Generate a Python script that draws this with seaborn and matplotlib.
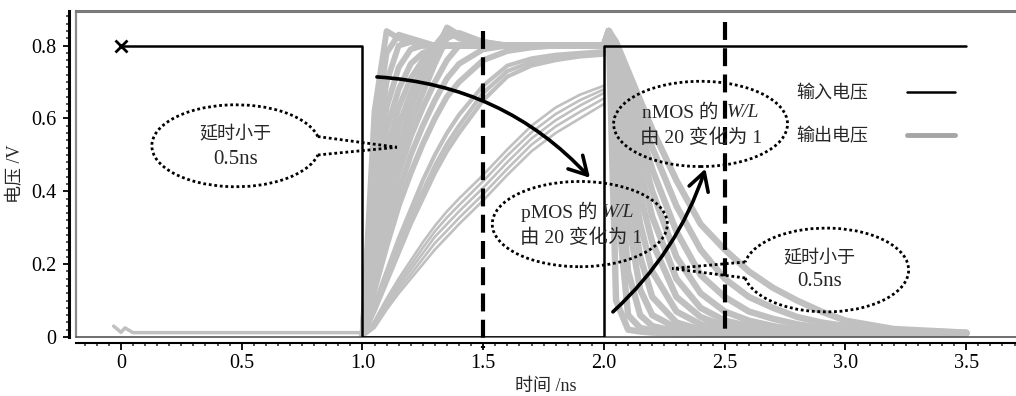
import numpy as np
import pandas as pd
import matplotlib
matplotlib.use('Agg')
import matplotlib.pyplot as plt
import seaborn as sns
from matplotlib.patches import Arc, Ellipse, FancyArrowPatch
from matplotlib.lines import Line2D
from matplotlib.ticker import MultipleLocator

# ---- data ----
# input voltage (black step)
t_in = [0.0, 1.0, 1.0, 2.0, 2.0, 3.5]
v_in = [0.8, 0.8, 0.0, 0.0, 0.8, 0.8]

# output before the first input edge
t_pre = [-0.03, 0.0, 0.017, 0.05, 1.0]
v_pre = [0.03, 0.013, 0.025, 0.012, 0.012]

# output rising edge (pMOS W/L from 20 down to 1)
t_rise = [1.0, 1.05, 1.1, 1.15, 1.2, 1.25, 1.3, 1.35, 1.4, 1.5, 1.6, 1.7, 1.8, 1.9, 2.0]
rise_fast = [
    [0.00, 0.62, 0.84, 0.82, 0.81, 0.80, 0.80, 0.80, 0.80, 0.80, 0.80, 0.80, 0.80, 0.80, 0.80],
    [0.00, 0.55, 0.78, 0.83, 0.82, 0.81, 0.80, 0.80, 0.80, 0.80, 0.80, 0.80, 0.80, 0.80, 0.80],
    [0.00, 0.48, 0.70, 0.80, 0.81, 0.80, 0.80, 0.80, 0.80, 0.80, 0.80, 0.80, 0.80, 0.80, 0.80],
    [0.00, 0.42, 0.63, 0.74, 0.79, 0.80, 0.80, 0.80, 0.80, 0.80, 0.80, 0.80, 0.80, 0.80, 0.80],
    [0.00, 0.37, 0.57, 0.68, 0.75, 0.78, 0.79, 0.80, 0.80, 0.80, 0.80, 0.80, 0.80, 0.80, 0.80],
    [0.00, 0.32, 0.51, 0.63, 0.71, 0.76, 0.79, 0.80, 0.80, 0.80, 0.80, 0.80, 0.80, 0.80, 0.80],
    [0.00, 0.28, 0.46, 0.58, 0.67, 0.74, 0.80, 0.84, 0.82, 0.80, 0.80, 0.80, 0.80, 0.80, 0.80],
    [0.00, 0.25, 0.41, 0.53, 0.63, 0.71, 0.78, 0.85, 0.83, 0.80, 0.80, 0.80, 0.80, 0.80, 0.80],
    [0.00, 0.22, 0.37, 0.49, 0.59, 0.67, 0.75, 0.82, 0.835, 0.81, 0.80, 0.80, 0.80, 0.80, 0.80],
    [0.00, 0.19, 0.33, 0.45, 0.55, 0.63, 0.70, 0.76, 0.80, 0.81, 0.80, 0.80, 0.80, 0.80, 0.80],
    [0.00, 0.16, 0.29, 0.40, 0.50, 0.58, 0.65, 0.71, 0.75, 0.79, 0.80, 0.80, 0.80, 0.80, 0.80],
    [0.00, 0.13, 0.25, 0.36, 0.45, 0.53, 0.60, 0.66, 0.70, 0.76, 0.785, 0.795, 0.80, 0.80, 0.80],
]
rise_mid = [
    [0.00, 0.09, 0.18, 0.27, 0.35, 0.43, 0.50, 0.56, 0.61, 0.69, 0.745, 0.765, 0.775, 0.78, 0.785],
    [0.00, 0.08, 0.16, 0.25, 0.33, 0.40, 0.47, 0.53, 0.58, 0.67, 0.73, 0.755, 0.765, 0.775, 0.78],
    [0.00, 0.07, 0.15, 0.23, 0.31, 0.38, 0.45, 0.51, 0.56, 0.65, 0.715, 0.745, 0.76, 0.77, 0.775],
]
rise_slow = [
    [0.00, 0.045, 0.105, 0.16, 0.21, 0.26, 0.305, 0.345, 0.38, 0.445, 0.515, 0.58, 0.63, 0.665, 0.69],
    [0.00, 0.04, 0.097, 0.15, 0.197, 0.245, 0.29, 0.328, 0.362, 0.428, 0.498, 0.562, 0.612, 0.65, 0.68],
    [0.00, 0.035, 0.09, 0.14, 0.185, 0.23, 0.275, 0.31, 0.345, 0.41, 0.48, 0.545, 0.595, 0.635, 0.67],
    [0.00, 0.03, 0.082, 0.13, 0.172, 0.215, 0.258, 0.292, 0.327, 0.392, 0.462, 0.528, 0.578, 0.618, 0.655],
    [0.00, 0.025, 0.075, 0.12, 0.16, 0.20, 0.24, 0.275, 0.31, 0.375, 0.445, 0.51, 0.56, 0.60, 0.64],
]

# output falling edge (nMOS W/L from 20 down to 1)
t_fall = [2.0, 2.02, 2.05, 2.1, 2.15, 2.2, 2.3, 2.4, 2.5, 2.6, 2.7, 2.8, 2.9, 3.0, 3.2, 3.5]
fall = [
    [0.80, 0.84, 0.10, 0.02, 0.015, 0.012, 0.01, 0.01, 0.01, 0.01, 0.01, 0.01, 0.01, 0.01, 0.01, 0.01],
    [0.80, 0.84, 0.40, 0.06, 0.025, 0.018, 0.012, 0.01, 0.01, 0.01, 0.01, 0.01, 0.01, 0.01, 0.01, 0.01],
    [0.80, 0.84, 0.56, 0.18, 0.06, 0.03, 0.015, 0.012, 0.01, 0.01, 0.01, 0.01, 0.01, 0.01, 0.01, 0.01],
    [0.80, 0.84, 0.64, 0.32, 0.13, 0.06, 0.025, 0.015, 0.012, 0.01, 0.01, 0.01, 0.01, 0.01, 0.01, 0.01],
    [0.80, 0.84, 0.69, 0.42, 0.22, 0.11, 0.04, 0.02, 0.015, 0.012, 0.01, 0.01, 0.01, 0.01, 0.01, 0.01],
    [0.80, 0.84, 0.72, 0.50, 0.31, 0.18, 0.07, 0.035, 0.02, 0.015, 0.012, 0.01, 0.01, 0.01, 0.01, 0.01],
    [0.80, 0.84, 0.75, 0.56, 0.39, 0.26, 0.11, 0.055, 0.03, 0.02, 0.015, 0.012, 0.01, 0.01, 0.01, 0.01],
    [0.80, 0.84, 0.77, 0.61, 0.46, 0.33, 0.16, 0.08, 0.045, 0.03, 0.02, 0.015, 0.012, 0.01, 0.01, 0.01],
    [0.80, 0.84, 0.78, 0.65, 0.52, 0.40, 0.22, 0.12, 0.07, 0.045, 0.03, 0.02, 0.015, 0.012, 0.01, 0.01],
    [0.80, 0.84, 0.79, 0.68, 0.57, 0.46, 0.29, 0.17, 0.11, 0.07, 0.05, 0.035, 0.025, 0.018, 0.012, 0.01],
    [0.80, 0.84, 0.80, 0.71, 0.61, 0.52, 0.36, 0.24, 0.16, 0.11, 0.08, 0.055, 0.04, 0.03, 0.018, 0.012],
    [0.80, 0.84, 0.81, 0.73, 0.65, 0.57, 0.43, 0.31, 0.24, 0.18, 0.135, 0.10, 0.07, 0.045, 0.022, 0.012],
]

x_ticks = [0, 0.5, 1.0, 1.5, 2.0, 2.5, 3.0, 3.5]
x_tick_labels = ['0', '0.5', '1.0', '1.5', '2.0', '2.5', '3.0', '3.5']
y_ticks = [0, 0.2, 0.4, 0.6, 0.8]
y_tick_labels = ['0', '0.2', '0.4', '0.6', '0.8']
marker_times = [1.5, 2.5]
legend_labels = ['输入电压', '输出电压']

GRAY = '#c0c0c0'
DOT = (0, (1, 1))


def to_long(t, curves, tag):
    rows = []
    for i, vals in enumerate(curves):
        for tt, vv in zip(t, vals):
            rows.append((f'{tag}{i}', tt, vv))
    return pd.DataFrame(rows, columns=['curve', 't', 'v'])


sns.set_style('ticks')
plt.rcParams['font.family'] = ['Liberation Serif', 'Noto Sans CJK SC']
plt.rcParams['axes.unicode_minus'] = False

fig = plt.figure(figsize=(10.16, 3.96), dpi=100)
ax = fig.add_axes([76 / 1016, 59 / 396, 940 / 1016, 326 / 396])
x0, x1 = -0.186, 3.706
ax.set_xlim(x0, x1)
ax.set_ylim(0, 0.895)

# gray output curves
common = dict(x='t', y='v', units='curve', estimator=None, sort=False,
              color=GRAY, legend=False, ax=ax)
sns.lineplot(data=to_long(t_pre, [v_pre], 'p'), lw=2.5, **common)
sns.lineplot(data=to_long(t_rise, rise_fast, 'f'), lw=4.2, **common)
sns.lineplot(data=to_long(t_rise, rise_mid, 'm'), lw=3.0, **common)
sns.lineplot(data=to_long(t_rise, rise_slow, 's'), lw=1.9, **common)
sns.lineplot(data=to_long(t_fall, fall, 'd'), lw=4.6, **common)

# frame of the plotting area
ax.plot([x0, x0], [0, 0.895], color='#8a8a8a', lw=1.6, clip_on=False)
ax.plot([x0, x1], [0, 0], color='#555555', lw=1.2, clip_on=False)

# input voltage
sns.lineplot(x=t_in, y=v_in, sort=False, estimator=None, color='black', lw=1.8, ax=ax, zorder=4)
ax.plot([0], [0.8], marker='x', ms=8, mew=2, color='black', zorder=4)

# dashed markers at 1.5 ns and 2.5 ns
ax.plot([marker_times[0]] * 2, [0.84, -0.03], color='black', lw=3, dashes=(4.3, 2),
        clip_on=False, zorder=4)
ax.plot([marker_times[1]] * 2, [0.865, 0.01], color='black', lw=3, dashes=(4.3, 2),
        clip_on=False, zorder=4)


def arc_theta(phi, w, h):
    p = np.deg2rad(phi)
    return np.rad2deg(np.arctan2(np.sin(p), (w / h) * np.cos(p)))


def bubble(cx, cy, w, h, gap=None, tip=None):
    if gap is None:
        ax.add_patch(Ellipse((cx, cy), w, h, fill=False, ec='black', lw=2, ls=DOT, zorder=5))
        return
    pa, pb = gap
    ax.add_patch(Arc((cx, cy), w, h, theta1=arc_theta(pa, w, h), theta2=arc_theta(pb, w, h),
                     ec='black', lw=2, ls=DOT, zorder=5))
    for phi in gap:
        p = np.deg2rad(phi)
        px, py = cx + w / 2 * np.cos(p), cy + h / 2 * np.sin(p)
        ax.plot([px, tip[0]], [py, tip[1]], color='black', lw=2, ls=DOT, zorder=5)


bubble(0.476, 0.525, 0.696, 0.225, gap=(13, 347), tip=(1.143, 0.521))
bubble(1.90, 0.31, 0.725, 0.234)
bubble(2.40, 0.585, 0.72, 0.234)
bubble(2.92, 0.184, 0.683, 0.23, gap=(191, 169), tip=(2.282, 0.188))

fs = 13
txt = dict(va='center', zorder=6)
ax.text(0.476, 0.556, '延时小于', ha='center', fontsize=fs, **txt)
ax.text(0.476, 0.488, '0.5ns', ha='center', fontsize=15, **txt)
ax.text(2.894, 0.214, '延时小于', ha='center', fontsize=fs, **txt)
ax.text(2.894, 0.151, '0.5ns', ha='center', fontsize=15, **txt)

ax.text(1.975, 0.343, 'pMOS 的', ha='right', fontsize=14, **txt)
ax.text(1.992, 0.343, 'W/L', ha='left', fontsize=14, style='italic', **txt)
ax.text(1.905, 0.272, '由 20 变化为 1', ha='center', fontsize=14, **txt)
ax.text(2.476, 0.615, 'nMOS 的', ha='right', fontsize=14, **txt)
ax.text(2.509, 0.615, 'W/L', ha='left', fontsize=14, style='italic', **txt)
ax.text(2.40, 0.548, '由 20 变化为 1', ha='center', fontsize=14, **txt)

# curved arrows
arrow_kw = dict(arrowstyle='->,head_length=0.8,head_width=0.45', mutation_scale=16,
                lw=2.6, color='black', shrinkA=0, shrinkB=0, zorder=6)
ax.add_patch(FancyArrowPatch((1.06, 0.714), (1.942, 0.437),
                             connectionstyle='arc3,rad=-0.2', **arrow_kw))
ax.add_patch(FancyArrowPatch((2.037, 0.069), (2.42, 0.462),
                             connectionstyle='arc3,rad=0.13', **arrow_kw))

# legend
handles = [Line2D([], [], color='black', lw=1.8), Line2D([], [], color='#a5a5a5', lw=3.5)]
ax.legend(handles, legend_labels, loc='center', bbox_to_anchor=(0.851, 0.681),
          frameon=False, markerfirst=False, handlelength=2.7, handletextpad=2.1,
          labelspacing=1.4, fontsize=fs)

# axes styling
ax.spines['right'].set_visible(False)
ax.spines['top'].set_color('#7a7a7a')
ax.spines['top'].set_linewidth(2.2)
ax.spines['left'].set_position(('outward', 5))
ax.spines['left'].set_linewidth(2.2)
ax.spines['bottom'].set_position(('outward', 4))
ax.spines['bottom'].set_linewidth(1.5)
ax.spines['left'].set_color('black')
ax.spines['bottom'].set_color('black')

ax.set_xticks(x_ticks, x_tick_labels)
ax.set_yticks(y_ticks, y_tick_labels)
ax.xaxis.set_minor_locator(MultipleLocator(0.05))
ax.yaxis.set_minor_locator(MultipleLocator(0.02))
ax.tick_params(axis='both', which='major', direction='out', width=1.3, labelsize=14.5, colors='black')
ax.tick_params(axis='x', which='major', length=5, pad=3)
ax.tick_params(axis='y', which='major', length=4, pad=5)
ax.tick_params(axis='both', which='minor', direction='out', width=1.1, length=2.2)

ax.set_xlabel('时间 /ns', fontsize=fs, labelpad=4)
ax.set_ylabel('电压 /V', fontsize=fs, labelpad=5)

fig.savefig('out.png', dpi=100)
